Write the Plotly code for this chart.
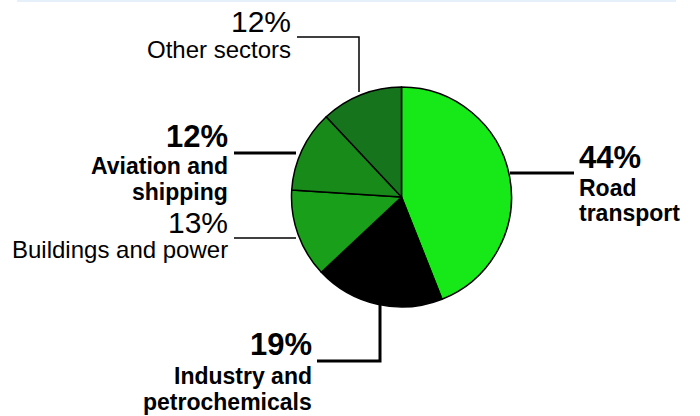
import plotly.graph_objects as go

W, H = 700, 416

sectors = ["Road transport", "Industry and petrochemicals", "Buildings and power",
           "Aviation and shipping", "Other sectors"]
shares = [44, 19, 13, 12, 12]
colors = ["#17e817", "#000000", "#199f19", "#178a19", "#16741c"]

def px(x):
    return x / W

def py(y):
    return 1 - y / H

fig = go.Figure()
fig.add_trace(go.Pie(
    labels=sectors, values=shares, sort=False, direction="clockwise", rotation=0,
    marker=dict(colors=colors, line=dict(color="#000000", width=1.5)),
    textinfo="none", hoverinfo="label+percent", showlegend=False,
    domain=dict(x=[px(291.5), px(511.5)], y=[py(307), py(87)]),
))

FONT = "Liberation Sans, Arial, Helvetica, sans-serif"

def label(text, x, baseline, size, bold, anchor):
    t = f"<b>{text}</b>" if bold else text
    fig.add_annotation(text=t, x=px(x), y=py(baseline - 0.33 * size),
                       xref="paper", yref="paper", xanchor=anchor, yanchor="middle",
                       showarrow=False, font=dict(family=FONT, size=size, color="#000000"))

# Other sectors
label(f"{shares[4]}%", 293, 31, 30, False, "right")
label("Other sectors", 293, 57, 24, False, "right")
# Aviation and shipping
label(f"{shares[3]}%", 230, 147, 31, True, "right")
label("Aviation and", 230, 174, 23, True, "right")
label("shipping", 230, 200, 23, True, "right")
# Buildings and power
label(f"{shares[2]}%", 230, 232, 30, False, "right")
label("Buildings and power", 230, 257, 24, False, "right")
# Road transport
label(f"{shares[0]}%", 577, 168, 31, True, "left")
label("Road", 577, 196, 23, True, "left")
label("transport", 577, 221, 23, True, "left")
# Industry and petrochemicals
label(f"{shares[1]}%", 314, 355, 31, True, "right")
label("Industry and", 314, 384, 23, True, "right")
label("petrochemicals", 314, 410, 23, True, "right")

def seg(points, width):
    path = "M " + " L ".join(f"{px(x)},{py(y)}" for x, y in points)
    fig.add_shape(type="path", path=path, xref="paper", yref="paper",
                  line=dict(color="#000000", width=width), layer="below")

seg([(297, 37), (359, 37), (359, 92)], 1.5)
seg([(234, 153), (296, 153)], 3)
seg([(234, 238), (296, 238)], 1.5)
seg([(510, 173), (574, 173)], 3)
seg([(380, 303), (380, 361), (317, 361)], 3)

# thin light rule at the top
fig.add_shape(type="rect", x0=px(17), x1=px(676), y0=py(2), y1=py(0),
              xref="paper", yref="paper", line=dict(width=0), fillcolor="#e6f0fb")

fig.update_layout(width=W, height=H, margin=dict(l=0, r=0, t=0, b=0),
                  paper_bgcolor="#ffffff", plot_bgcolor="#ffffff")

fig.write_html("out.html", config={"displayModeBar": False},
               post_script="document.body.style.margin='0';document.body.style.overflow='hidden';")
